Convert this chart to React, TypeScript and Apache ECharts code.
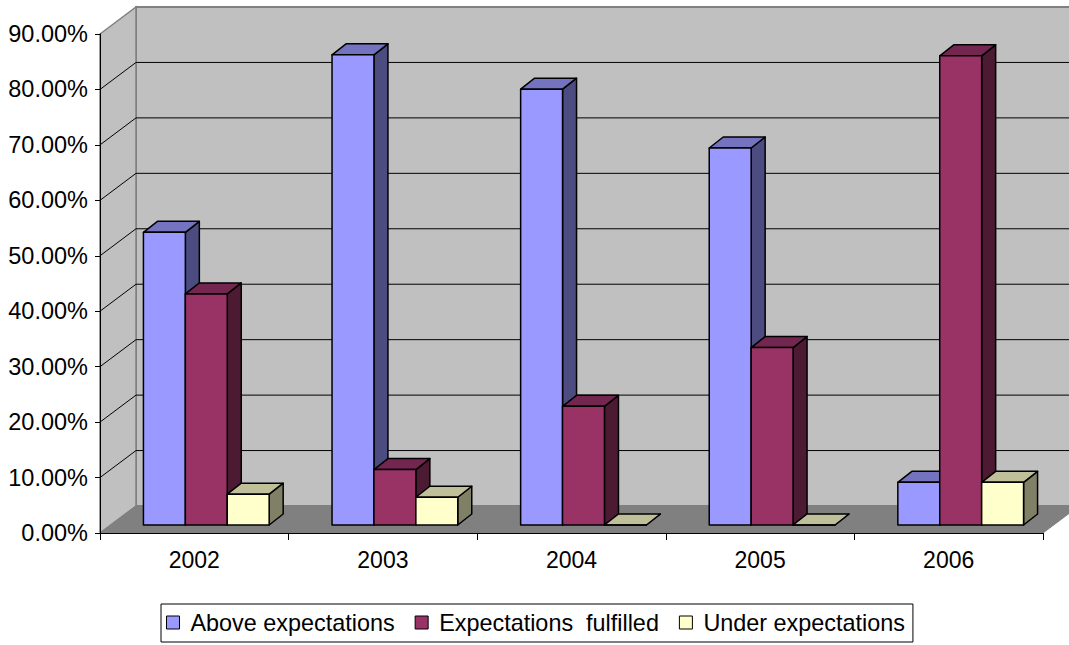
import React, { useEffect, useRef } from "react";
import * as echarts from "echarts";

const categories = ["2002", "2003", "2004", "2005", "2006"];
const aboveValues = [52.78, 84.8, 78.6, 68.0, 7.69];
const fulfilledValues = [41.67, 10.0, 21.4, 32.0, 84.62];
const underValues = [5.56, 5.0, 0, 0, 7.69];
const seriesNames = ["Above expectations", "Expectations  fulfilled", "Under expectations"];
const yMax = 90;
const yStep = 10;

const FONT = "'Liberation Sans', Arial, sans-serif";
// oblique depth of the plot box
const DX = 36;
const DY = -27;
// bar front-plane offset and bar depth
const FX = 12;
const FY = -8;
const BX = 14;
const BY = -11;

const palettes = [
  { front: "#9999FF", side: "#4C4C80", top: "#7373BF" },
  { front: "#993366", side: "#4D1A33", top: "#732650" },
  { front: "#FFFFCC", side: "#808066", top: "#BFBF99" },
];

function barRenderer(s: number) {
  const pal = palettes[s];
  return (params: any, api: any) => {
    const idx = api.value(0);
    const val = api.value(1);
    const base = api.coord([idx, 0]);
    const top = api.coord([idx, val]);
    const band = api.size([1, 0])[0];
    const w = band / 4.5;
    const x0 = base[0] - 1.5 * w + s * w + FX;
    const yb = base[1] + FY;
    const yt = top[1] + FY;
    const stroke = { stroke: "#000", lineWidth: 1.5, lineJoin: "round" };
    return {
      type: "group",
      children: [
        {
          type: "polygon",
          shape: { points: [[x0 + w, yb], [x0 + w, yt], [x0 + w + BX, yt + BY], [x0 + w + BX, yb + BY]] },
          style: { fill: pal.side, ...stroke },
        },
        {
          type: "polygon",
          shape: { points: [[x0, yt], [x0 + w, yt], [x0 + w + BX, yt + BY], [x0 + BX, yt + BY]] },
          style: { fill: pal.top, ...stroke },
        },
        {
          type: "rect",
          shape: { x: x0, y: yt, width: w, height: yb - yt },
          style: { fill: pal.front, ...stroke },
        },
      ],
    };
  };
}

function wallRenderer(params: any, api: any) {
  const band = api.size([1, 0])[0];
  const left = api.coord([0, 0])[0] - band / 2;
  const right = api.coord([categories.length - 1, 0])[0] + band / 2;
  const y0 = api.coord([0, 0])[1];
  const yTop = api.coord([0, yMax])[1];
  const children: any[] = [];
  children.push({
    type: "rect",
    shape: { x: left + DX, y: yTop + DY, width: right - left + 200, height: y0 - yTop },
    style: { fill: "#C0C0C0", stroke: "#808080", lineWidth: 2 },
  });
  children.push({
    type: "polygon",
    shape: { points: [[left, y0], [left, yTop], [left + DX, yTop + DY], [left + DX, y0 + DY]] },
    style: { fill: "#C0C0C0", stroke: "#808080", lineWidth: 1.5 },
  });
  children.push({
    type: "polygon",
    shape: { points: [[left, y0], [right, y0], [right + DX, y0 + DY], [left + DX, y0 + DY]] },
    style: { fill: "#808080", stroke: "#808080", lineWidth: 1 },
  });
  for (let v = yStep; v < yMax; v += yStep) {
    const y = api.coord([0, v])[1];
    children.push({
      type: "polyline",
      shape: { points: [[left, y], [left + DX, y + DY], [right + DX + 200, y + DY]] },
      style: { stroke: "#000", lineWidth: 1, fill: null },
    });
  }
  return { type: "group", children };
}

export default function App() {
  const ref = useRef<HTMLDivElement>(null);
  useEffect(() => {
    if (!ref.current) return;
    const chart = echarts.init(ref.current, null, { renderer: "svg" });
    const valueSets = [aboveValues, fulfilledValues, underValues];
    chart.setOption({
      animation: false,
      backgroundColor: "#fff",
      textStyle: { fontFamily: FONT },
      grid: { left: 100, right: 26, top: 34, bottom: 112, containLabel: false },
      xAxis: {
        type: "category",
        data: categories,
        z: 10,
        axisLine: { show: true, lineStyle: { color: "#000", width: 1 } },
        axisTick: { show: true, length: 7, lineStyle: { color: "#000" } },
        axisLabel: { color: "#000", fontSize: 23, fontFamily: FONT, margin: 15 },
        splitLine: { show: false },
      },
      yAxis: {
        type: "value",
        min: 0,
        max: yMax,
        interval: yStep,
        z: 10,
        axisLine: { show: true, lineStyle: { color: "#000", width: 1 } },
        axisTick: { show: true, length: 5, lineStyle: { color: "#000" } },
        axisLabel: {
          color: "#000",
          fontSize: 23.5,
          fontFamily: FONT,
          margin: 12,
          formatter: (v: number) => v.toFixed(2) + "%",
        },
        splitLine: { show: false },
      },
      legend: {
        data: seriesNames,
        left: 161,
        top: 604,
        icon: "rect",
        itemWidth: 13,
        itemHeight: 13,
        itemGap: 20,
        padding: [7, 8, 8, 5],
        borderColor: "#000",
        borderWidth: 1,
        itemStyle: { borderColor: "#000", borderWidth: 1 },
        textStyle: { color: "#000", fontSize: 23.4, fontFamily: FONT, padding: [0, 0, 0, 6] },
      },
      series: [
        {
          type: "custom",
          name: "walls",
          z: 1,
          clip: false,
          silent: true,
          renderItem: wallRenderer,
          data: [[0, 0]],
          encode: { x: 0, y: 1 },
        },
        ...seriesNames.map((name, s) => ({
          type: "custom",
          name,
          z: 3,
          clip: false,
          itemStyle: { color: palettes[s].front },
          renderItem: barRenderer(s),
          data: valueSets[s].map((v, i) => [i, v]),
          encode: { x: 0, y: 1 },
        })),
      ],
    });
    return () => chart.dispose();
  }, []);
  return (
    <div
      ref={ref}
      style={{ position: "fixed", left: 0, top: 0, width: 1069, height: 645, background: "#fff" }}
    />
  );
}
